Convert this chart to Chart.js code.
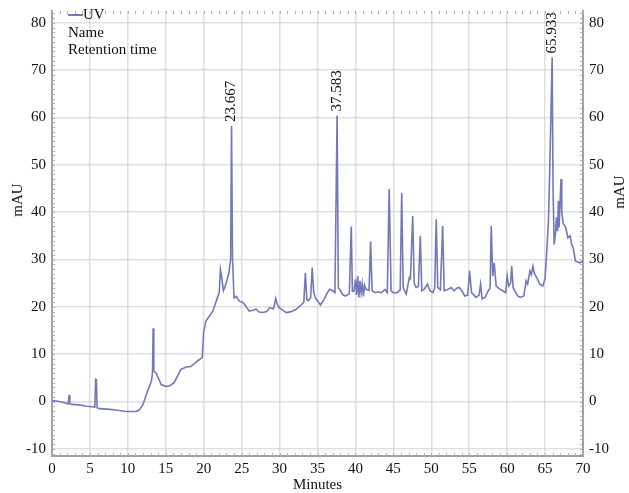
<!DOCTYPE html>
<html>
<head>
<meta charset="utf-8">
<script src="https://cdn.jsdelivr.net/npm/chart.js@4"></script>
<style>
  body { margin: 0; background: #fff; }
  #wrap { width: 629px; height: 493px; }
</style>
</head>
<body>
<div id="wrap"><canvas id="chart" width="629" height="493"></canvas></div>
<script>
// chromatogram trace (minutes / mAU)
const times = [
  0, 1.0, 2.0, 2.15, 2.25, 2.35, 2.6, 3.6, 4.5, 5.4, 5.65, 5.75, 5.85, 5.95, 6.2, 7.3, 8.4, 9.8, 11.1, 11.5,
  12.0, 12.6, 13.1, 13.25, 13.33, 13.42, 13.7, 14.4, 15.0, 15.5, 16.1, 17.0, 17.7, 18.3, 19.2, 19.8,
  20.0, 20.3, 21.2, 21.8, 22.05, 22.2, 22.35, 22.6, 22.9, 23.3, 23.55, 23.667, 23.8, 24.0, 24.3, 24.7,
  25.1, 25.4, 26.0, 26.5, 26.9, 27.3, 27.8, 28.3, 28.7, 29.2, 29.5, 29.7, 30.0, 30.5, 30.9, 31.5, 32.2,
  32.9, 33.2, 33.4, 33.6, 33.8, 34.1, 34.3, 34.5, 34.8, 35.4, 35.9, 36.3, 36.6, 37.0, 37.3, 37.583, 37.75,
  38.0, 38.3, 38.7, 39.2, 39.45, 39.6, 39.8, 40.0, 40.15, 40.3, 40.45, 40.6, 40.75, 40.9, 41.05, 41.2,
  41.4, 41.8, 42.0, 42.2, 42.6, 43.0, 43.4, 43.9, 44.2, 44.45, 44.7, 45.0, 45.5, 45.9, 46.1, 46.3, 46.7,
  47.1, 47.25, 47.55, 47.75, 48.0, 48.3, 48.55, 48.75, 49.1, 49.5, 49.8, 50.2, 50.45, 50.65, 50.85, 51.2,
  51.5, 51.7, 52.1, 52.6, 53.0, 53.4, 53.7, 54.1, 54.4, 54.8, 55.05, 55.3, 55.5, 55.9, 56.3, 56.5, 56.7,
  57.1, 57.5, 57.75, 57.9, 58.1, 58.3, 58.55, 59.0, 59.4, 59.8, 60.0, 60.2, 60.45, 60.6, 60.8, 61.0, 61.4,
  61.7, 62.2, 62.5, 62.7, 63.0, 63.2, 63.4, 63.6, 63.9, 64.3, 64.7, 65.0, 65.2, 65.45, 65.6, 65.933, 66.05,
  66.2, 66.4, 66.5, 66.65, 66.75, 66.85, 67.1, 67.2, 67.4, 67.7, 68.0, 68.3, 68.5, 68.7, 69.0, 69.3, 69.6, 70.0
];
const mAU = [
  0.2, 0.0, -0.4, -0.5, 1.4, -0.4, -0.6, -0.7, -1.0, -1.1, -1.2, 4.7, 4.6, -1.3, -1.5, -1.6, -1.8, -2.1, -2.1, -1.8,
  -0.6, 2.2, 4.3, 6.0, 15.5, 6.4, 6.1, 3.6, 3.2, 3.3, 4.0, 6.8, 7.3, 7.4, 8.6, 9.3,
  14.9, 17.0, 19.1, 21.9, 23.0, 27.9, 26.5, 23.4, 24.7, 27.0, 30.0, 58.2, 30.0, 21.9, 22.2, 21.2,
  21.0, 20.5, 19.1, 19.3, 19.5, 18.9, 18.8, 19.0, 19.8, 19.6, 21.8, 20.5, 19.8, 19.2, 18.8, 19.0, 19.5,
  20.5, 21.0, 27.2, 21.5, 21.3, 22.0, 28.3, 23.0, 21.7, 20.4, 21.7, 23.0, 23.7, 23.4, 23.0, 60.4, 24.0,
  23.5, 22.6, 22.3, 22.8, 37.0, 23.3, 23.3, 25.8, 22.5, 26.5, 22.0, 25.5, 23.0, 24.9, 22.2, 24.6,
  23.7, 23.5, 33.8, 23.4, 23.0, 23.2, 23.0, 23.7, 23.0, 44.9, 23.4, 23.0, 23.0, 23.6, 44.1, 24.0, 22.7,
  26.2, 26.0, 39.2, 25.0, 24.1, 24.3, 35.0, 23.4, 23.8, 24.8, 23.5, 23.0, 24.0, 38.5, 24.1, 23.6,
  37.1, 23.4, 23.6, 24.1, 23.4, 24.0, 24.1, 23.2, 22.3, 22.5, 27.6, 23.0, 22.7, 22.0, 22.5, 24.8, 21.7,
  22.0, 23.4, 24.0, 37.1, 26.5, 29.3, 24.4, 23.8, 23.4, 23.0, 26.5, 24.4, 25.0, 28.6, 24.0, 23.4, 22.3,
  22.0, 22.3, 25.5, 24.8, 27.6, 26.8, 28.6, 27.0, 26.2, 24.8, 24.4, 26.0, 31.1, 38.2, 48.0, 72.7, 45.0,
  33.2, 36.0, 38.9, 36.0, 42.4, 36.8, 47.0, 40.0, 37.5, 36.9, 34.6, 35.0, 33.2, 32.5, 29.7, 29.5, 29.3, 29.7
];
// labelled peaks (retention times)
const peakTimes = [23.667, 37.583, 65.933];
const peakLabels = ["23.667", "37.583", "65.933"];
// axis ticks
const xTicks = [0, 5, 10, 15, 20, 25, 30, 35, 40, 45, 50, 55, 60, 65, 70];
const yTicks = [-10, 0, 10, 20, 30, 40, 50, 60, 70, 80];

const FONT = "'Liberation Serif', 'Times New Roman', serif";
const LINE = '#7378b9';

const points = times.map((t, i) => ({ x: t, y: mAU[i] }));

// legend box top-left inside plot
const legendPlugin = {
  id: 'uvLegend',
  afterDraw(chart) {
    const { ctx, chartArea } = chart;
    const x = chartArea.left + 16, y = chartArea.top + 4;
    ctx.save();
    ctx.strokeStyle = LINE;
    ctx.lineWidth = 2;
    ctx.beginPath();
    ctx.moveTo(x, y);
    ctx.lineTo(x + 15, y);
    ctx.stroke();
    ctx.fillStyle = '#111';
    ctx.font = '15px ' + FONT;
    ctx.textBaseline = 'middle';
    ctx.fillText('UV', x + 15, y);
    ctx.fillText('Name', x, y + 18);
    ctx.fillText('Retention time', x, y + 35);
    ctx.restore();
  }
};

// rotated retention time labels over the peaks
const peakPlugin = {
  id: 'peakLabels',
  afterDatasetsDraw(chart) {
    const { ctx, scales } = chart;
    ctx.save();
    ctx.fillStyle = '#111';
    ctx.font = '15px ' + FONT;
    ctx.textAlign = 'left';
    ctx.textBaseline = 'middle';
    peakTimes.forEach((t, i) => {
      const idx = times.indexOf(t);
      const px = scales.x.getPixelForValue(t);
      const py = scales.y.getPixelForValue(mAU[idx]);
      ctx.save();
      ctx.translate(px, py - 4);
      ctx.rotate(-Math.PI / 2);
      ctx.fillText(peakLabels[i], 0, 0);
      ctx.restore();
    });
    ctx.restore();
  }
};

// both mAU titles read bottom-to-top, plus minor ticks on the axes
const axisPlugin = {
  id: 'axisExtras',
  afterDraw(chart) {
    const { ctx, chartArea, scales } = chart;
    ctx.save();
    ctx.strokeStyle = '#b0b0b8';
    ctx.lineWidth = 1;
    ctx.beginPath();
    for (let v = -11; v <= 82; v++) {
      const py = Math.round(scales.y.getPixelForValue(v)) + 0.5;
      ctx.moveTo(chartArea.left, py); ctx.lineTo(chartArea.left + 3, py);
      ctx.moveTo(chartArea.right, py); ctx.lineTo(chartArea.right - 3, py);
    }
    for (let t = 0; t <= 70; t++) {
      const px = Math.round(scales.x.getPixelForValue(t)) + 0.5;
      ctx.moveTo(px, chartArea.bottom); ctx.lineTo(px, chartArea.bottom - 3);
      ctx.moveTo(px, chartArea.top); ctx.lineTo(px, chartArea.top + 3);
    }
    ctx.stroke();

    ctx.fillStyle = '#111';
    ctx.font = '15px ' + FONT;
    ctx.textAlign = 'center';
    ctx.textBaseline = 'middle';
    [[18, 200], [620, 192]].forEach(([x, y]) => {
      ctx.save();
      ctx.translate(x, y);
      ctx.rotate(-Math.PI / 2);
      ctx.fillText('mAU', 0, 0);
      ctx.restore();
    });
    ctx.restore();
  }
};

const tickFont = { family: FONT, size: 15 };
const gridCfg = { color: 'rgba(205,205,215,0.65)', lineWidth: 1.5, drawTicks: false };
const borderCfg = { color: '#a0a0a8', width: 2 };
const setYTicks = scale => { scale.ticks = yTicks.map(v => ({ value: v })); };
// the end labels sit inside the range, so no extra room is needed for them
const noEndPad = scale => { scale.paddingTop = 0; scale.paddingBottom = 0; };

new Chart(document.getElementById('chart'), {
  type: 'line',
  data: {
    datasets: [{
      label: 'UV',
      data: points,
      borderColor: LINE,
      borderWidth: 1.6,
      pointRadius: 0,
      tension: 0,
      fill: false
    }]
  },
  options: {
    responsive: false,
    animation: false,
    layout: { padding: { left: 20, right: 14, top: 11, bottom: 0 } },
    plugins: { legend: { display: false }, tooltip: { enabled: false } },
    scales: {
      x: {
        type: 'linear',
        min: 0,
        max: 70,
        afterBuildTicks: scale => { scale.ticks = xTicks.map(v => ({ value: v })); },
        afterFit: scale => { scale.height = 37; },
        ticks: { font: tickFont, color: '#111', padding: 4, maxRotation: 0 },
        grid: gridCfg,
        border: borderCfg,
        title: { display: true, text: 'Minutes', font: { family: FONT, size: 15, lineHeight: 1 }, color: '#111', padding: 0 }
      },
      y: {
        position: 'left',
        min: -11.5,
        max: 82.5,
        afterBuildTicks: setYTicks,
        afterFit: noEndPad,
        ticks: { font: tickFont, color: '#111', padding: 6 },
        grid: gridCfg,
        border: borderCfg
      },
      y2: {
        position: 'right',
        min: -11.5,
        max: 82.5,
        afterBuildTicks: setYTicks,
        afterFit: noEndPad,
        ticks: { font: tickFont, color: '#111', padding: 6 },
        grid: { display: false, drawTicks: false },
        border: borderCfg
      }
    }
  },
  plugins: [legendPlugin, peakPlugin, axisPlugin]
});
</script>
</body>
</html>
